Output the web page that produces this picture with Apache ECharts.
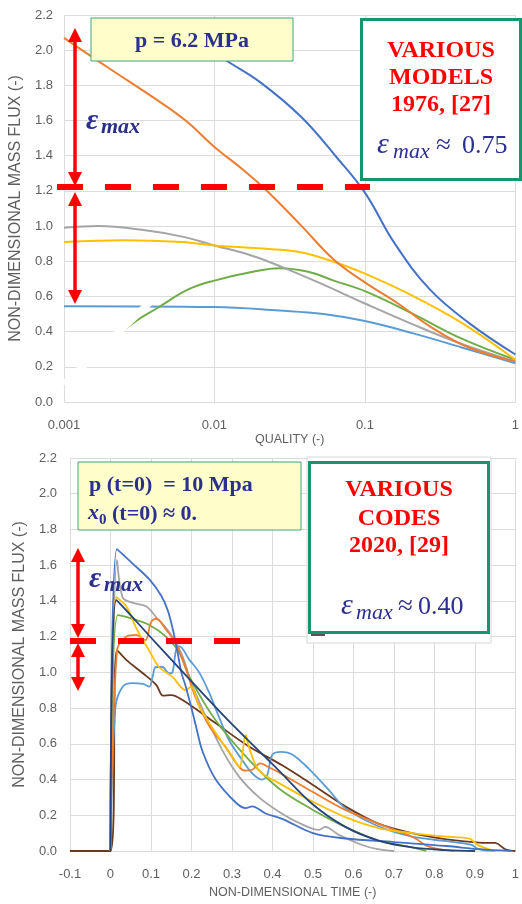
<!DOCTYPE html>
<html><head><meta charset="utf-8">
<script src="https://cdn.jsdelivr.net/npm/echarts@6/dist/echarts.min.js"></script>
<style>html,body{margin:0;padding:0;background:#fff}#c{width:522px;height:904px}</style>
</head><body><div id="c"></div>
<script>
// ---------- tick labels ----------
const qualityLabels = ['0.001', '0.01', '0.1', '1'];
const fluxLabels = ['0.0','0.2','0.4','0.6','0.8','1.0','1.2','1.4','1.6','1.8','2.0','2.2'];
const timeLabels = ['-0.1','0','0.1','0.2','0.3','0.4','0.5','0.6','0.7','0.8','0.9','1'];

// ---------- top chart: various models 1976 (x = quality, y = mass flux) ----------
const modelBlue = [[0.0055,2.15],[0.0116,1.95],[0.02,1.82],[0.0378,1.62],[0.065,1.39],[0.1,1.19],[0.158,0.90],[0.27,0.64],[0.49,0.45],[1,0.27]];
const modelOrange = [[0.001,2.07],[0.00197,1.90],[0.00394,1.73],[0.00643,1.60],[0.01,1.45],[0.0155,1.32],[0.023,1.19],[0.038,1.0],[0.062,0.81],[0.1,0.68],[0.166,0.56],[0.27,0.43],[0.49,0.31],[1,0.23]];
const modelGray = [[0.001,0.99],[0.0017,1.0],[0.0032,0.98],[0.0061,0.94],[0.01,0.89],[0.018,0.83],[0.0295,0.76],[0.049,0.68],[0.1,0.56],[0.21,0.44],[0.44,0.33],[1,0.23]];
const modelYellow = [[0.001,0.91],[0.0025,0.92],[0.0061,0.91],[0.01,0.89],[0.023,0.87],[0.038,0.85],[0.056,0.81],[0.1,0.73],[0.19,0.62],[0.44,0.45],[1,0.24]];
const modelGreen = [[0.001,0.1],[0.0015,0.24],[0.002,0.335],[0.0024,0.395],[0.003,0.46],[0.0041,0.53],[0.0067,0.64],[0.01,0.69],[0.018,0.74],[0.027,0.76],[0.042,0.74],[0.062,0.69],[0.1,0.63],[0.21,0.50],[0.44,0.36],[1,0.24]];
const modelLightBlue = [[0.001,0.545],[0.01,0.54],[0.027,0.52],[0.053,0.50],[0.1,0.46],[0.21,0.39],[0.44,0.31],[1,0.22]];
const whiteStroke = [[0.001,0.1],[0.0037,0.565]];

// ---------- bottom chart: various codes 2020 (x = time, y = mass flux) ----------
const codeBlue = [[0,0],[0.016,1.69],[0.054,1.61],[0.096,1.52],[0.125,1.43],[0.141,1.35],[0.153,1.25],[0.165,1.12],[0.175,1.0],[0.186,0.92],[0.2,0.80],[0.211,0.70],[0.227,0.56],[0.26,0.40],[0.31,0.27],[0.334,0.24],[0.35,0.25],[0.383,0.21],[0.424,0.18],[0.5,0.10],[0.58,0.07],[0.70,0.05],[0.83,0.028],[0.91,0.01],[0.99,0]];
const codeGray = [[0,0],[0.016,1.63],[0.03,1.42],[0.054,1.39],[0.088,1.37],[0.116,1.30],[0.137,1.25],[0.158,1.18],[0.178,1.09],[0.2,0.94],[0.236,0.75],[0.276,0.565],[0.318,0.415],[0.367,0.30],[0.416,0.22],[0.466,0.157],[0.515,0.118],[0.53,0.135],[0.564,0.09],[0.62,0.035],[0.66,0.01],[0.70,0]];
const codeNavy = [[0,0],[0.014,1.405],[0.112,1.165],[0.2,0.95],[0.3,0.71],[0.416,0.45],[0.5,0.26],[0.58,0.135],[0.66,0.06],[0.745,0.02],[0.83,0.005],[0.9,0]];
const codeGreen = [[0,0],[0.018,1.32],[0.054,1.30],[0.096,1.265],[0.137,1.20],[0.17,1.11],[0.195,0.975],[0.26,0.73],[0.342,0.51],[0.416,0.35],[0.5,0.23],[0.58,0.135],[0.66,0.06],[0.745,0.02],[0.78,0]];
const codeYellow = [[0,0],[0.014,1.42],[0.039,1.37],[0.063,1.25],[0.08,1.18],[0.096,1.12],[0.12,1.03],[0.153,0.975],[0.186,0.90],[0.199,0.92],[0.219,0.81],[0.26,0.66],[0.30,0.53],[0.318,0.47],[0.334,0.65],[0.342,0.58],[0.367,0.45],[0.416,0.38],[0.5,0.276],[0.58,0.19],[0.66,0.13],[0.745,0.10],[0.83,0.08],[0.885,0.07],[0.91,0.03],[0.95,0]];
const codeOrange = [[0,0],[0.016,1.12],[0.039,1.20],[0.063,1.21],[0.086,1.18],[0.10,1.28],[0.113,1.30],[0.137,1.24],[0.162,1.16],[0.186,1.02],[0.21,0.86],[0.244,0.70],[0.285,0.58],[0.318,0.47],[0.334,0.45],[0.35,0.455],[0.37,0.49],[0.39,0.47],[0.424,0.43],[0.5,0.33],[0.58,0.23],[0.66,0.155],[0.745,0.08],[0.76,0.06],[0.78,0.03],[0.81,0.01],[0.85,0]];
const codeBrown = [[-0.1,0],[0,0],[0.016,1.125],[0.039,1.07],[0.08,0.995],[0.113,0.93],[0.13,0.87],[0.15,0.873],[0.178,0.845],[0.26,0.715],[0.342,0.585],[0.424,0.48],[0.5,0.37],[0.58,0.25],[0.66,0.155],[0.745,0.10],[0.83,0.065],[0.91,0.047],[0.95,0.045],[0.975,0.01],[1.0,0]];
const codeLightBlue = [[0,0],[0.012,0.80],[0.03,0.92],[0.054,0.94],[0.08,0.935],[0.096,0.92],[0.104,0.976],[0.112,1.03],[0.128,1.03],[0.145,0.995],[0.153,1.0],[0.162,1.125],[0.17,1.145],[0.195,1.07],[0.219,1.0],[0.244,0.885],[0.268,0.75],[0.293,0.62],[0.325,0.51],[0.35,0.435],[0.374,0.40],[0.387,0.425],[0.40,0.54],[0.424,0.555],[0.449,0.54],[0.49,0.46],[0.54,0.34],[0.58,0.24],[0.66,0.14],[0.745,0.08],[0.83,0.055],[0.89,0.035],[0.91,0.01],[0.95,0]];

// ---------- chart ----------
const AX = '#5f5f5f', GRID = '#dcdcdc';
const labelFont = {color: AX, fontSize: 13, fontFamily: "'Liberation Sans',sans-serif"};
const nameFont = {color: AX, fontSize: 12.5, fontFamily: "'Liberation Sans',sans-serif"};
const yNameFont = {color: AX, fontSize: 16, fontFamily: "'Liberation Sans',sans-serif"};

function topLine(data, color, z) {
  return {type:'line', xAxisIndex:0, yAxisIndex:0, data, smooth:0.4, showSymbol:false, symbol:'none',
    lineStyle:{color, width:2}, z: z || 2, silent:true};
}
function botLine(data, color) {
  return {type:'line', xAxisIndex:1, yAxisIndex:1, data, smooth:0.35, showSymbol:false, symbol:'none',
    lineStyle:{color, width:1.8}, silent:true};
}

const BLUE_TXT = '#2b2f8f', RED = '#ff0000', GREEN = '#16956f';
const SERIF = "'Liberation Serif','Times New Roman',serif";
const G = [];
function rect(x,y,w,h,fill,stroke,lw){ G.push({type:'rect', z:100, shape:{x,y,width:w,height:h}, style:{fill, stroke, lineWidth:lw}}); }
function txt(x,y,s,font,color,align,shadow){
  const st = {text:s, font, fill:color, align:align||'left', verticalAlign:'middle'};
  if (shadow) { st.shadowColor='rgba(60,60,60,0.45)'; st.shadowBlur=2; st.shadowOffsetX=1.5; st.shadowOffsetY=1.5; }
  G.push({type:'text', z:102, x, y, style:st});
}
function arrow(x, yTop, yBot){
  G.push({type:'line', z:101, shape:{x1:x,y1:yTop+10,x2:x,y2:yBot-10}, style:{stroke:RED, lineWidth:3.5}});
  G.push({type:'polygon', z:101, shape:{points:[[x-7,yTop+14],[x+7,yTop+14],[x,yTop]]}, style:{fill:RED}});
  G.push({type:'polygon', z:101, shape:{points:[[x-7,yBot-14],[x+7,yBot-14],[x,yBot]]}, style:{fill:RED}});
}
function dash(x1,x2,y){ G.push({type:'line', z:101, shape:{x1,y1:y,x2,y2:y}, style:{stroke:RED, lineWidth:6, lineDash:[26,22]}}); }

// top annotations
rect(91,18,202,43,'#ffffcc','#3fa57c',1);
txt(192,41,'p = 6.2 MPa','bold 22px '+SERIF,BLUE_TXT,'center');
rect(361.5,19.5,159,160,'#ffffff',GREEN,3);
txt(441,51,'VARIOUS','bold 24px '+SERIF,RED,'center');
txt(441,78,'MODELS','bold 24px '+SERIF,RED,'center');
txt(441,105,'1976, [27]','bold 24px '+SERIF,RED,'center');
txt(377,145,'ε','italic 30px '+SERIF,BLUE_TXT,'left',true);
txt(393,152,'max','italic 22px '+SERIF,BLUE_TXT,'left',true);
txt(436,146,'≈','27px '+SERIF,BLUE_TXT,'left',true);
txt(462,146,'0.75','26px '+SERIF,BLUE_TXT,'left',true);
arrow(75,28,186);
arrow(75,192,304);
dash(57,370,187);
txt(86,121,'ε','bold italic 30px '+SERIF,BLUE_TXT,'left',true);
txt(101,127,'max','bold italic 22px '+SERIF,BLUE_TXT,'left',true);

// bottom annotations
rect(307,457,184,186,'#ffffff','#d6d6d6',1);
G.push({type:'line', z:101, shape:{x1:311,y1:635,x2:325,y2:635}, style:{stroke:'#555',lineWidth:2}});
rect(78,462,223,68,'#ffffcc','#3fa57c',1);
txt(89,485,'p (t=0)  = 10 Mpa','bold 22px '+SERIF,BLUE_TXT,'left');
txt(88,513,'x','bold italic 22px '+SERIF,BLUE_TXT,'left');
txt(99,520,'0','bold 15px '+SERIF,BLUE_TXT,'left');
txt(112,514,'(t=0) ≈ 0.','bold 22px '+SERIF,BLUE_TXT,'left');
rect(309.5,462.5,179,170,'#ffffff',GREEN,3);
txt(399,490,'VARIOUS','bold 24px '+SERIF,RED,'center');
txt(399,519,'CODES','bold 24px '+SERIF,RED,'center');
txt(399,546,'2020, [29]','bold 24px '+SERIF,RED,'center');
txt(341,606,'ε','italic 30px '+SERIF,BLUE_TXT,'left',true);
txt(356,613,'max','italic 22px '+SERIF,BLUE_TXT,'left',true);
txt(398,607,'≈','27px '+SERIF,BLUE_TXT,'left',true);
txt(418,607,'0.40','26px '+SERIF,BLUE_TXT,'left',true);
arrow(78,548,638);
arrow(78,643,691);
dash(70,242,641);
txt(89,579,'ε','bold italic 30px '+SERIF,BLUE_TXT,'left',true);
txt(104,585,'max','bold italic 22px '+SERIF,BLUE_TXT,'left',true);

const chart = echarts.init(document.getElementById('c'), null, {renderer:'canvas'});
chart.setOption({
  backgroundColor:'#ffffff',
  animation:false,
  grid:[
    {left:54, top:15, width:468, height:387, containLabel:false},
    {left:70, top:458, width:447, height:393, containLabel:false}
  ],
  xAxis:[
    {type:'log', gridIndex:0, logBase:10, min:0.001, max:1,
     axisLine:{show:false}, axisTick:{show:false},
     axisLabel:Object.assign({margin:17, formatter:v=>qualityLabels[Math.round(Math.log10(v))+3]}, labelFont),
     splitLine:{show:true, lineStyle:{color:GRID, width:1}}, minorTick:{show:false}, minorSplitLine:{show:false},
     name:'QUALITY (-)', nameLocation:'middle', nameGap:27, nameTextStyle:nameFont},
    {type:'value', gridIndex:1, min:-0.1, max:1, interval:0.1,
     axisLine:{show:false}, axisTick:{show:false},
     axisLabel:Object.assign({margin:17, formatter:v=>timeLabels[Math.round(v*10)+1]}, labelFont),
     splitLine:{show:true, lineStyle:{color:GRID, width:1}},
     name:'NON-DIMENSIONAL TIME (-)', nameLocation:'middle', nameGap:35, nameTextStyle:nameFont}
  ],
  yAxis:[
    {type:'value', gridIndex:0, min:0, max:2.2, interval:0.2,
     axisLine:{show:false}, axisTick:{show:false},
     axisLabel:Object.assign({margin:11, formatter:v=>fluxLabels[Math.round(v/0.2)]}, labelFont),
     splitLine:{show:true, lineStyle:{color:GRID, width:1}},
     name:'NON-DIMENSIONAL MASS FLUX (-)', nameLocation:'middle', nameGap:31, nameTextStyle:yNameFont},
    {type:'value', gridIndex:1, min:0, max:2.2, interval:0.2,
     axisLine:{show:false}, axisTick:{show:false},
     axisLabel:Object.assign({margin:13, formatter:v=>fluxLabels[Math.round(v/0.2)]}, labelFont),
     splitLine:{show:true, lineStyle:{color:GRID, width:1}},
     name:'NON-DIMENSIONAL MASS FLUX (-)', nameLocation:'middle', nameGap:31, nameTextStyle:yNameFont}
  ],
  series:[
    topLine(modelLightBlue,'#5b9bd5'),
    topLine(modelGreen,'#70ad47'),
    topLine(modelGray,'#a5a5a5'),
    topLine(modelYellow,'#ffc000'),
    topLine(modelOrange,'#ed7d31'),
    topLine(modelBlue,'#4472c4'),
    Object.assign(topLine(whiteStroke,'#ffffff',5), {smooth:false, lineStyle:{color:'#ffffff', width:7}}),
    botLine(codeBrown,'#6b3a1e'),
    botLine(codeLightBlue,'#5b9bd5'),
    botLine(codeGray,'#a5a5a5'),
    botLine(codeGreen,'#70ad47'),
    botLine(codeOrange,'#ed7d31'),
    botLine(codeYellow,'#ffc000'),
    botLine(codeBlue,'#4472c4'),
    botLine(codeNavy,'#264478')
  ],
  graphic: G
});
</script>
</body></html>
